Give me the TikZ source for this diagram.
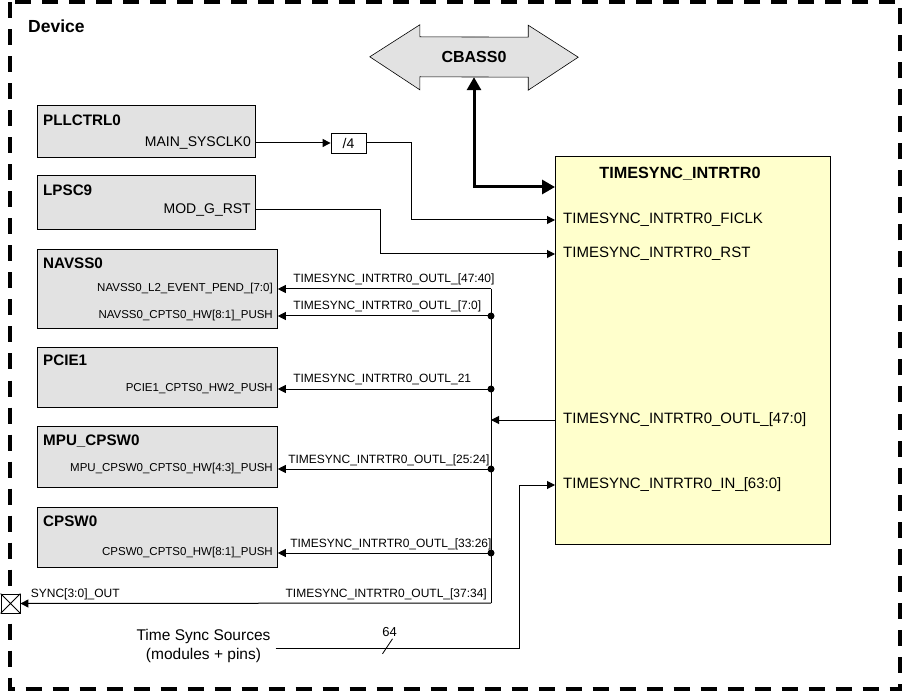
\documentclass[tikz,border=0pt]{standalone}
\usepackage{fontspec}
\setmainfont{Liberation Sans}
\usetikzlibrary{arrows.meta,positioning,calc,backgrounds}
\definecolor{BlockGrey}{RGB}{226,226,226}
\definecolor{IPYellow}{RGB}{255,255,204}
\definecolor{Wire}{RGB}{0,0,0}
\tikzset{
  devframe/.style={draw=Wire, line width=4pt, dash pattern=on 16pt off 11pt},
  devlabel/.style={font=\fontsize{17.5}{20}\selectfont\bfseries, anchor=north west, inner sep=0pt},
  modblk/.style={draw=Wire, line width=0.8pt, fill=BlockGrey, anchor=north west, inner sep=0pt},
  ipblk/.style={draw=Wire, line width=0.8pt, fill=IPYellow, anchor=north west, inner sep=0pt,
    minimum width=275pt, minimum height=388pt},
  buspoly/.style={draw=Wire, line width=0.6pt, fill=BlockGrey},
  blktitle/.style={font=\fontsize{15.2}{18}\selectfont\bfseries, anchor=north west, inner sep=0pt},
  modport/.style={font=\fontsize{11.5}{14}\selectfont, anchor=east, inner sep=0pt},
  clkport/.style={modport, font=\fontsize{14}{16}\selectfont},
  ipport/.style={font=\fontsize{15}{18}\selectfont, anchor=west, inner sep=0pt},
  wirelbl/.style={font=\fontsize{12}{14}\selectfont, inner sep=0pt},
  divbox/.style={draw=Wire, line width=0.8pt, fill=white, minimum width=35pt, minimum height=20pt,
    inner sep=0pt, font=\fontsize{14}{16}\selectfont},
  pinbox/.style={draw=Wire, line width=0.8pt, fill=white, minimum size=19pt, inner sep=0pt},
  sig/.style={draw=Wire, line width=1pt, -{Triangle[length=8pt,width=8pt]}},
  busarr/.style={draw=Wire, line width=3pt, {Triangle[length=13pt,width=14pt]}-{Triangle[length=13pt,width=14pt]}},
}
\begin{document}
\begin{tikzpicture}[x=1pt,y=-1pt]
\useasboundingbox (0,0) rectangle (902,692);

% ================= device frame =================
\draw[devframe] (10,2.5) rectangle (900,689);
\node[devlabel] (devname) at (28,20) {Device};

% ================= interconnect =================
\node[minimum width=108pt, minimum height=40pt, inner sep=0pt,
      font=\fontsize{16}{19}\selectfont\bfseries] (cbass) at (474,57) {CBASS0};
\begin{scope}[on background layer]
\draw[buspoly] (cbass.north west) -- ++(0,-12) -- ++(-50,32) -- ++(50,33) -- ++(0,-13)
  -- (cbass.south east) -- ++(0,13) -- ++(50,-33) -- ++(-50,-32) -- ++(0,12) -- cycle;
\end{scope}

% ================= timesync router =================
\node[ipblk] (ts) at (555,156) {};
\node[blktitle, anchor=north, font=\fontsize{16.2}{19}\selectfont\bfseries] (tsname) at (680,167)
  {TIMESYNC\_INTRTR0};
\node[ipport] (tsficlk) at (563,220) {TIMESYNC\_INTRTR0\_FICLK};
\node[ipport] (tsrst) at (563,254) {TIMESYNC\_INTRTR0\_RST};
\node[ipport] (tsoutl) at (563,420) {TIMESYNC\_INTRTR0\_OUTL\_[47:0]};
\node[ipport] (tsin) at (563,485) {TIMESYNC\_INTRTR0\_IN\_[63:0]};

\draw[busarr] (cbass.south) |- ([yshift=-31pt]ts.north west);

% ================= clock + reset =================
\node[modblk, minimum width=218pt, minimum height=52pt] (pll) at (37,105) {};
\node[blktitle] (pllname) at ([xshift=6pt,yshift=-10pt]pll.north west) {PLLCTRL0};
\node[clkport] (pllclk) at (251,143) {MAIN\_SYSCLK0};
\node[divbox] (div4) at (348.5,143) {/4};

\node[modblk, minimum width=218pt, minimum height=54pt] (lpsc) at (37,175) {};
\node[blktitle] (lpscname) at ([xshift=6pt,yshift=-10pt]lpsc.north west) {LPSC9};
\node[clkport] (lpscrst) at (251,210) {MOD\_G\_RST};

\draw[sig] (pll.east |- pllclk) -- (div4.west);
\draw[sig] (div4.east) -- ++(45,0) |- (ts.west |- tsficlk);
\draw[sig] (lpsc.east |- lpscrst) -- ++(125,0) |- (ts.west |- tsrst);

% ================= time sync consumers =================
\node[modblk, minimum width=240pt, minimum height=79pt] (nav) at (37,249) {};
\node[blktitle] (navname) at ([xshift=6pt,yshift=-9pt]nav.north west) {NAVSS0};
\node[modport] (navl2) at (273,289) {NAVSS0\_L2\_EVENT\_PEND\_[7:0]};
\node[modport] (navhw) at (273,316) {NAVSS0\_CPTS0\_HW[8:1]\_PUSH};

\node[modblk, minimum width=240pt, minimum height=60pt] (pcie) at (37,347) {};
\node[blktitle] (pciename) at ([xshift=6pt,yshift=-8pt]pcie.north west) {PCIE1};
\node[modport] (pciehw) at (273,389) {PCIE1\_CPTS0\_HW2\_PUSH};

\node[modblk, minimum width=240pt, minimum height=61pt] (mpu) at (37,426) {};
\node[blktitle] (mpuname) at ([xshift=6pt,yshift=-9pt]mpu.north west) {MPU\_CPSW0};
\node[modport] (mpuhw) at (273,469) {MPU\_CPSW0\_CPTS0\_HW[4:3]\_PUSH};

\node[modblk, minimum width=240pt, minimum height=60pt] (cpsw) at (37,507) {};
\node[blktitle] (cpswname) at ([xshift=6pt,yshift=-9pt]cpsw.north west) {CPSW0};
\node[modport] (cpswhw) at (273,553) {CPSW0\_CPTS0\_HW[8:1]\_PUSH};

\node[pinbox] (syncpin) at (10.5,603.5) {};
\draw[line width=0.8pt] (syncpin.north west) -- (syncpin.south east)
                        (syncpin.north east) -- (syncpin.south west);

% output bus
\coordinate (bustop) at (491,289);
\coordinate (busend) at (491,603);
\draw[line width=1pt] (bustop) -- (busend);
\draw[sig] (ts.west |- tsoutl) -- (bustop |- tsoutl);

\draw[sig] (bustop) -- (nav.east |- navl2)
  node[wirelbl, anchor=base west, xshift=15pt, yshift=6pt] {TIMESYNC\_INTRTR0\_OUTL\_[47:40]};
\draw[sig] (bustop |- navhw) -- (nav.east |- navhw)
  node[wirelbl, anchor=base west, xshift=15pt, yshift=6pt] {TIMESYNC\_INTRTR0\_OUTL\_[7:0]};
\draw[sig] (bustop |- pciehw) -- (pcie.east |- pciehw)
  node[wirelbl, anchor=base west, xshift=15pt, yshift=6pt] {TIMESYNC\_INTRTR0\_OUTL\_21};
\draw[sig] (bustop |- mpuhw) -- (mpu.east |- mpuhw)
  node[wirelbl, anchor=base west, xshift=10pt, yshift=6pt] {TIMESYNC\_INTRTR0\_OUTL\_[25:24]};
\draw[sig] (bustop |- cpswhw) -- (cpsw.east |- cpswhw)
  node[wirelbl, anchor=base west, xshift=12pt, yshift=6pt] {TIMESYNC\_INTRTR0\_OUTL\_[33:26]};
\draw[sig] (busend) -- (syncpin.east)
  node[wirelbl, anchor=base west, xshift=10pt, yshift=6pt] {SYNC[3:0]\_OUT};
\node[wirelbl, anchor=base east, xshift=-4pt, yshift=6pt] (synclbl) at (busend)
  {TIMESYNC\_INTRTR0\_OUTL\_[37:34]};

\foreach \p in {navhw,pciehw,mpuhw,cpswhw}
  \fill[Wire] (bustop |- \p) circle (3.5pt);

% ================= time sync sources =================
\node[font=\fontsize{15.5}{19}\selectfont, align=center, inner sep=0pt] (tssrc) at (203.5,645.5)
  {Time Sync Sources\\(modules + pins)};
\draw[sig] ([xshift=5pt,yshift=-2.5pt]tssrc.east) -- ++(244,0) |- (ts.west |- tsin);
\node[wirelbl, font=\fontsize{13}{15}\selectfont] (buswidth) at (389.5,632) {64};
\draw[line width=0.8pt] ([xshift=-7pt,yshift=-17pt]buswidth.south) -- ([xshift=3pt,yshift=-2pt]buswidth.south);

\end{tikzpicture}
\end{document}
